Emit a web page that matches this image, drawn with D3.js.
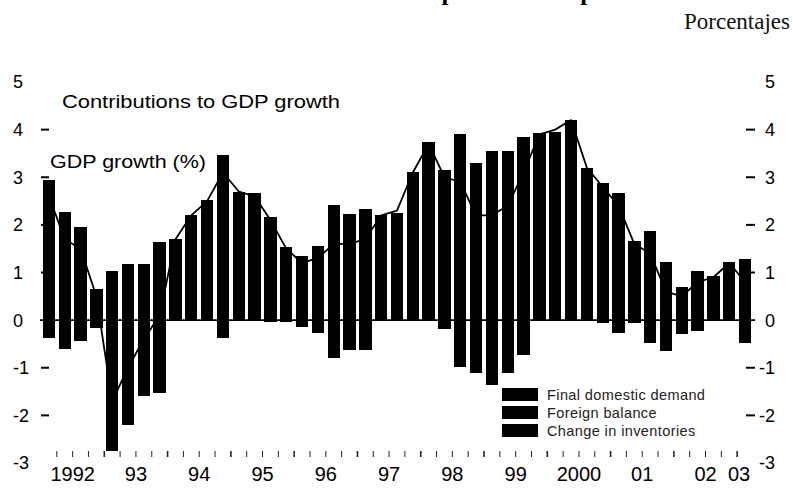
<!DOCTYPE html>
<html>
<head>
<meta charset="utf-8">
<script src="https://cdn.jsdelivr.net/npm/d3@7"></script>
<style>
  body { margin: 0; background: #fff; }
  svg { display: block; }
</style>
</head>
<body>
<svg id="chart" width="793" height="488"></svg>
<script>
// ---------------------------------------------------------------------------
// Data (quarterly 1992Q1 - 2003Q1)

const quarters = [
  "1992Q1", "1992Q2", "1992Q3", "1992Q4", "1993Q1", "1993Q2", "1993Q3", "1993Q4",
  "1994Q1", "1994Q2", "1994Q3", "1994Q4", "1995Q1", "1995Q2", "1995Q3", "1995Q4",
  "1996Q1", "1996Q2", "1996Q3", "1996Q4", "1997Q1", "1997Q2", "1997Q3", "1997Q4",
  "1998Q1", "1998Q2", "1998Q3", "1998Q4", "1999Q1", "1999Q2", "1999Q3", "1999Q4",
  "2000Q1", "2000Q2", "2000Q3", "2000Q4", "2001Q1", "2001Q2", "2001Q3", "2001Q4",
  "2002Q1", "2002Q2", "2002Q3", "2002Q4", "2003Q1"
];

const domestic = [
  2.65, 2.0, 1.7, 0.45, -2.3, -1.9, -1.4, -1.2,
  1.2, 1.7, 2.0, 2.9, 2.4, 2.5, 2.1, 1.5,
  1.35, 1.56, 2.2, 2.0, 2.1, 1.9, 2.0, 2.8,
  3.3, 3.16, 3.6, 3.3, 3.56, 3.56, 3.5, 3.6,
  3.7, 3.9, 3.0, 2.88, 2.66, 1.4, 1.6, 1.0,
  0.7, 1.04, 0.8, 1.0, 1.29
];

const foreign = [
  -0.38, -0.61, -0.44, -0.17, 1.03, 1.18, 1.18, 1.64,
  0.3, 0.2, 0.1, -0.37, 0.0, 0.0, -0.03, -0.04,
  -0.15, -0.28, -0.8, -0.63, -0.63, 0.31, 0.25, 0.1,
  0.0, -0.19, -0.99, -1.12, -1.1, -0.95, -0.74, 0.0,
  0.0, 0.3, 0.2, 0.0, 0.0, 0.26, 0.28, 0.23,
  0.0, -0.23, 0.12, 0.0, -0.49
];

const inventories = [
  0.3, 0.27, 0.26, 0.2, -0.44, -0.31, -0.2, -0.34,
  0.2, 0.31, 0.42, 0.57, 0.3, 0.17, 0.07, 0.04,
  0.0, 0.0, 0.22, 0.23, 0.24, 0.0, 0.0, 0.2,
  0.45, 0.0, 0.3, 0.0, -0.27, -0.17, 0.35, 0.32,
  0.26, 0.0, 0.0, -0.05, -0.26, -0.05, -0.48, -0.64,
  -0.29, 0.0, 0.0, 0.23, 0.0
];

const gdp = [
  2.6, 1.7, 1.5, 0.5, -1.7, -1.0, -0.4, 0.1,
  1.7, 2.2, 2.5, 3.1, 2.7, 2.6, 2.1, 1.5,
  1.2, 1.3, 1.6, 1.6, 1.7, 2.2, 2.3, 3.1,
  3.7, 3.0, 2.9, 2.2, 2.2, 2.4, 3.1, 3.9,
  4.0, 4.2, 3.2, 2.8, 2.4, 1.6, 1.4, 0.6,
  0.5, 0.8, 0.9, 1.2, 0.8
];

const seriesKeys = ["domestic", "foreign", "inventories"];
const legendLabels = ["Final domestic demand", "Foreign balance", "Change in inventories"];

const yTicks = [5, 4, 3, 2, 1, 0, -1, -2, -3];
const yDashes = [4, 3, 2, 1, -1, -2];

const yearLabels = ["1992", "93", "94", "95", "96", "97", "98", "99", "2000", "01", "02", "03"];
const yearLabelQuarters = ["1992Q2", "1993Q2", "1994Q2", "1995Q2", "1996Q2", "1997Q2",
  "1998Q2", "1999Q2", "2000Q2", "2001Q2", "2002Q2", "2003Q1"];

// ---------------------------------------------------------------------------
// Setup

const svg = d3.select("#chart");
const sans = "Liberation Sans, Arial, sans-serif";
const serif = "Liberation Serif, Times New Roman, serif";

const x = d3.scaleBand()
  .domain(quarters)
  .range([41, 753])
  .paddingInner(0.22)
  .paddingOuter(0.11);

const step = x.step();
const center = q => x(q) + x.bandwidth() / 2;

const y = d3.scaleLinear()
  .domain([-3, 5])
  .range([463, 82]);

const rows = quarters.map((q, i) => ({
  q: q,
  domestic: domestic[i],
  foreign: foreign[i],
  inventories: inventories[i],
  gdp: gdp[i]
}));

const stacked = d3.stack()
  .keys(seriesKeys)
  .offset(d3.stackOffsetDiverging)(rows);

// title line of the page, cropped by the scan: only the descenders show
svg.append("text")
  .attr("x", 390)
  .attr("y", 0)
  .style("font-family", serif)
  .style("font-weight", "bold")
  .style("font-size", "25px")
  .text("Componentes del producto");

svg.append("text")
  .attr("x", 790)
  .attr("y", 29)
  .attr("text-anchor", "end")
  .style("font-family", serif)
  .style("font-size", "23px")
  .attr("fill", "#111")
  .text("Porcentajes");

// ---------------------------------------------------------------------------
// Bars (all series printed black in the scan)

svg.append("g")
  .attr("shape-rendering", "crispEdges")
  .selectAll("g")
  .data(stacked)
  .join("g")
  .attr("fill", "#000")
  .selectAll("rect")
  .data(d => d)
  .join("rect")
  .attr("x", d => x(d.data.q))
  .attr("width", x.bandwidth())
  .attr("y", d => y(Math.max(d[0], d[1])))
  .attr("height", d => Math.abs(y(d[0]) - y(d[1])));

// zero line
svg.append("line")
  .attr("x1", 40)
  .attr("x2", 755)
  .attr("y1", y(0))
  .attr("y2", y(0))
  .attr("stroke", "#000")
  .attr("stroke-width", 1.6);

// GDP growth line
const line = d3.line()
  .x(d => center(d.q))
  .y(d => y(d.gdp));

svg.append("path")
  .datum(rows)
  .attr("d", line)
  .attr("fill", "none")
  .attr("stroke", "#000")
  .attr("stroke-width", 1.8)
  .attr("stroke-linejoin", "round");

// ---------------------------------------------------------------------------
// Y axes (left and right)

svg.append("g")
  .selectAll("text")
  .data(yTicks)
  .join("text")
  .attr("x", 13)
  .attr("y", d => y(d))
  .attr("dy", "0.36em")
  .style("font-family", sans)
  .style("font-size", "18px")
  .text(d => d);

svg.append("g")
  .selectAll("text")
  .data(yTicks)
  .join("text")
  .attr("x", 775)
  .attr("y", d => y(d))
  .attr("dy", "0.36em")
  .attr("text-anchor", "end")
  .style("font-family", sans)
  .style("font-size", "18px")
  .text(d => d);

svg.append("g")
  .selectAll("line")
  .data(yDashes)
  .join("line")
  .attr("x1", 41)
  .attr("x2", 49)
  .attr("y1", d => y(d))
  .attr("y2", d => y(d))
  .attr("stroke", "#000")
  .attr("stroke-width", 2);

svg.append("g")
  .selectAll("line")
  .data(yDashes)
  .join("line")
  .attr("x1", 746)
  .attr("x2", 755)
  .attr("y1", d => y(d))
  .attr("y2", d => y(d))
  .attr("stroke", "#000")
  .attr("stroke-width", 2);

// ---------------------------------------------------------------------------
// X axis: quarter ticks and year labels

svg.append("g")
  .selectAll("line")
  .data(quarters.slice(1))
  .join("line")
  .attr("x1", q => x(q) - step * x.paddingInner() / 2)
  .attr("x2", q => x(q) - step * x.paddingInner() / 2)
  .attr("y1", 451)
  .attr("y2", 457)
  .attr("stroke", "#222")
  .attr("stroke-width", q => q.endsWith("Q1") ? 1.6 : 1);

svg.append("g")
  .selectAll("text")
  .data(yearLabels)
  .join("text")
  .attr("x", (d, i) => center(yearLabelQuarters[i]) + (yearLabelQuarters[i].endsWith("Q2") ? step / 2 : -6))
  .attr("y", 481)
  .attr("text-anchor", "middle")
  .style("font-family", sans)
  .style("font-size", "20px")
  .text(d => d);

// ---------------------------------------------------------------------------
// Annotations

svg.append("text")
  .attr("x", 62)
  .attr("y", 108)
  .style("font-family", sans)
  .style("font-size", "19px")
  .attr("textLength", 278)
  .attr("lengthAdjust", "spacingAndGlyphs")
  .text("Contributions to GDP growth");

svg.append("text")
  .attr("x", 50)
  .attr("y", 168)
  .style("font-family", sans)
  .style("font-size", "19px")
  .attr("textLength", 156)
  .attr("lengthAdjust", "spacingAndGlyphs")
  .text("GDP growth (%)");

// Legend
const legend = svg.append("g")
  .selectAll("g")
  .data(legendLabels)
  .join("g")
  .attr("transform", (d, i) => `translate(502, ${388 + i * 18})`);

legend.append("rect")
  .attr("width", 36)
  .attr("height", 13)
  .attr("fill", "#000");

legend.append("text")
  .attr("x", 45)
  .attr("y", 11.5)
  .style("font-family", sans)
  .style("font-size", "14.5px")
  .style("letter-spacing", "0.4px")
  .attr("fill", "#222")
  .text(d => d);
</script>
</body>
</html>
